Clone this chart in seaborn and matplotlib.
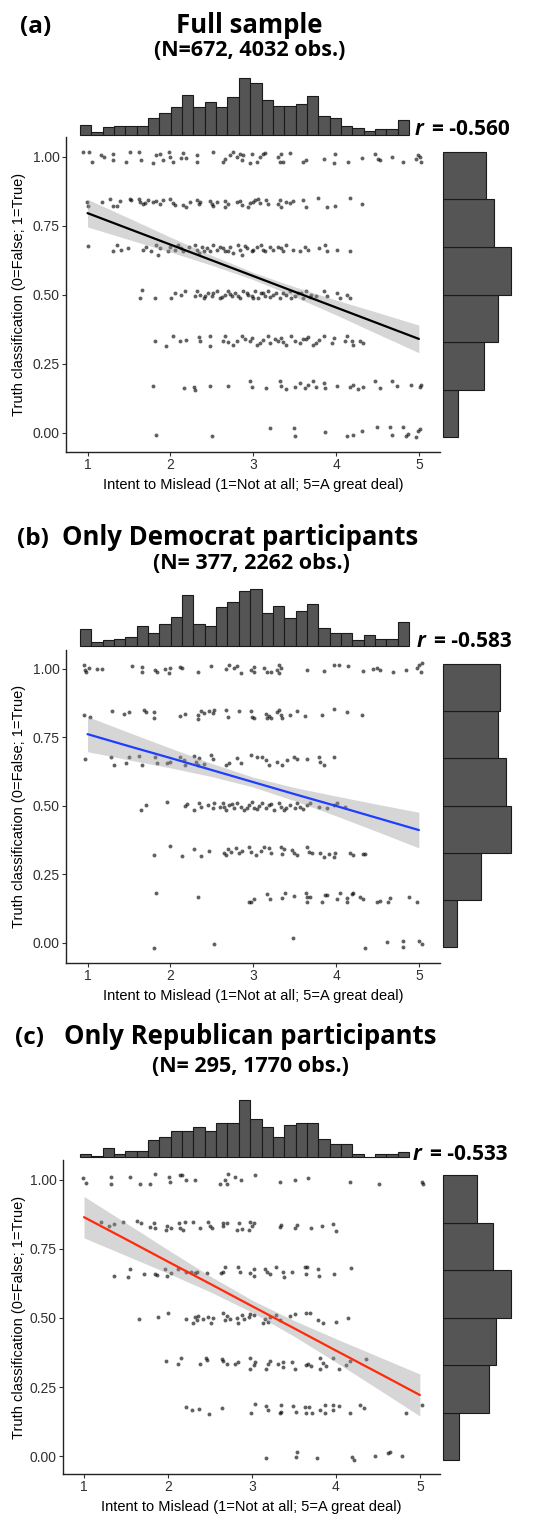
import numpy as np
import pandas as pd
import matplotlib
matplotlib.use("Agg")
import matplotlib.pyplot as plt
import seaborn as sns

# ---------------- data ----------------
tick_x = [1, 2, 3, 4, 5]
tick_y = [0.0, 0.25, 0.50, 0.75, 1.00]
tick_y_labels = ["0.00", "0.25", "0.50", "0.75", "1.00"]
x_label = "Intent to Mislead (1=Not at all; 5=A great deal)"
y_label = "Truth classification (0=False; 1=True)"

tags = ["(a)", "(b)", "(c)"]
titles = ["Full sample", "Only Democrat participants", "Only Republican participants"]
subtitles = ["(N=672, 4032 obs.)", "(N= 377, 2262 obs.)", "(N= 295, 1770 obs.)"]
r_values = ["-0.560", "-0.583", "-0.533"]
line_colors = ["black", "#1f3dff", "#ff2a0a"]

# x-marginal histogram (29 bins), counts per bin
x_bin_lo, x_bin_hi = 0.931, 5.069
a_top = [11, 3, 8, 9, 9, 10, 18, 23, 30, 42, 29, 35, 30, 40, 60, 55, 37, 31, 31, 33, 41, 20, 18, 10, 7, 4, 6, 6, 16]
b_top = [9, 2, 3, 4, 5, 11, 7, 12, 16, 28, 12, 11, 21, 24, 30, 31, 18, 22, 15, 19, 23, 10, 7, 7, 3, 6, 4, 4, 13]
c_top = [3, 1, 10, 3, 7, 7, 18, 22, 28, 28, 33, 28, 37, 37, 62, 41, 33, 22, 35, 37, 37, 20, 14, 14, 3, 0, 3, 3, 5]

# y-marginal histogram (6 bins, bottom to top)
y_bin_lo, y_bin_hi = -0.016, 1.018
a_right = [37, 102, 135, 168, 125, 105]
b_right = [18, 49, 87, 80, 70, 73]
c_right = [18, 51, 59, 75, 55, 37]

# fitted line with 95% band
band_x = [1.0, 1.5, 2.0, 2.5, 3.0, 3.5, 4.0, 4.5, 5.0]
a_fit = [0.796, 0.739, 0.682, 0.625, 0.568, 0.511, 0.454, 0.397, 0.340]
a_lo = [0.746, 0.700, 0.655, 0.607, 0.555, 0.493, 0.427, 0.358, 0.290]
a_hi = [0.846, 0.778, 0.709, 0.643, 0.581, 0.529, 0.481, 0.436, 0.390]
b_fit = [0.762, 0.718, 0.675, 0.631, 0.587, 0.543, 0.500, 0.456, 0.412]
b_lo = [0.698, 0.668, 0.639, 0.607, 0.569, 0.519, 0.464, 0.406, 0.347]
b_hi = [0.826, 0.768, 0.711, 0.655, 0.605, 0.567, 0.536, 0.506, 0.477]
c_fit = [0.865, 0.785, 0.704, 0.624, 0.543, 0.463, 0.382, 0.302, 0.221]
c_lo = [0.790, 0.726, 0.662, 0.595, 0.521, 0.434, 0.340, 0.243, 0.145]
c_hi = [0.940, 0.844, 0.747, 0.652, 0.565, 0.491, 0.425, 0.361, 0.297]

# jittered participant points (intent, truth classification)
a_points = [
    (0.95, 1.016), (1.02, 1.016), (1.05, 0.983), (1.16, 1.005), (1.20, 1.001), (1.31, 1.011), (1.31, 0.987),
    (1.46, 0.981), (1.51, 1.016), (1.62, 1.016), (1.64, 0.987), (1.79, 0.977), (1.83, 1.007), (1.87, 1.011),
    (1.91, 0.989), (1.98, 1.016), (1.99, 1.001), (2.03, 0.983), (2.13, 0.995), (2.15, 1.013), (2.19, 0.995),
    (2.32, 1.007), (2.32, 0.981), (2.52, 1.016), (2.63, 0.983), (2.66, 0.991), (2.72, 1.007), (2.76, 1.016),
    (2.80, 1.001), (2.84, 1.011), (2.86, 0.989), (2.88, 1.007), (2.96, 0.979), (2.98, 1.011), (3.04, 0.983),
    (3.08, 1.001), (3.12, 1.011), (3.14, 1.013), (3.30, 1.001), (3.32, 0.983), (3.34, 1.011), (3.36, 0.983),
    (3.44, 1.013), (3.60, 0.983), (3.64, 0.989), (3.85, 0.991), (3.97, 0.979), (3.99, 1.011), (4.15, 0.981),
    (4.31, 0.995), (4.47, 1.011), (4.51, 0.991), (4.53, 0.987), (4.67, 1.001), (4.81, 0.983), (4.97, 0.991),
    (4.99, 1.007), (5.01, 1.001), (5.03, 0.983),
    (0.99, 0.838), (1.01, 0.822), (1.17, 0.838), (1.27, 0.846), (1.31, 0.822), (1.35, 0.822), (1.39, 0.841),
    (1.51, 0.848), (1.53, 0.844), (1.62, 0.848), (1.63, 0.838), (1.67, 0.829), (1.69, 0.834), (1.73, 0.844),
    (1.79, 0.838), (1.83, 0.841), (1.87, 0.829), (1.91, 0.844), (1.99, 0.848), (2.03, 0.834), (2.05, 0.826),
    (2.15, 0.826), (2.19, 0.820), (2.24, 0.838), (2.32, 0.844), (2.34, 0.829), (2.36, 0.835), (2.48, 0.841),
    (2.50, 0.829), (2.52, 0.822), (2.56, 0.838), (2.66, 0.841), (2.66, 0.820), (2.70, 0.829), (2.80, 0.838),
    (2.84, 0.841), (2.86, 0.826), (2.94, 0.820), (2.96, 0.832), (3.00, 0.838), (3.02, 0.844), (3.06, 0.846),
    (3.08, 0.834), (3.16, 0.844), (3.18, 0.829), (3.30, 0.829), (3.32, 0.844), (3.34, 0.820), (3.40, 0.838),
    (3.44, 0.832), (3.48, 0.841), (3.60, 0.844), (3.64, 0.817), (3.78, 0.850), (3.89, 0.820), (3.99, 0.822),
    (4.17, 0.850), (4.31, 0.829),
    (1.01, 0.678), (1.31, 0.657), (1.35, 0.681), (1.41, 0.663), (1.49, 0.669), (1.67, 0.663), (1.71, 0.675),
    (1.77, 0.657), (1.83, 0.681), (1.85, 0.645), (1.87, 0.669), (1.97, 0.657), (1.99, 0.675), (2.05, 0.663),
    (2.09, 0.681), (2.13, 0.669), (2.15, 0.657), (2.22, 0.675), (2.30, 0.681), (2.32, 0.663), (2.34, 0.651),
    (2.38, 0.675), (2.44, 0.669), (2.48, 0.657), (2.52, 0.681), (2.56, 0.663), (2.64, 0.669), (2.66, 0.657),
    (2.72, 0.675), (2.76, 0.651), (2.82, 0.681), (2.84, 0.663), (2.86, 0.645), (2.92, 0.669), (2.98, 0.657),
    (3.04, 0.675), (3.10, 0.681), (3.12, 0.663), (3.14, 0.657), (3.24, 0.663), (3.30, 0.675), (3.36, 0.657),
    (3.40, 0.681), (3.48, 0.663), (3.56, 0.657), (3.62, 0.675), (3.66, 0.663), (3.80, 0.669), (3.87, 0.681),
    (3.89, 0.657), (4.01, 0.663), (4.17, 0.657), (2.40, 0.660), (2.60, 0.672), (2.70, 0.660), (2.90, 0.678),
    (3.00, 0.664), (3.20, 0.672), (3.34, 0.668),
    (1.63, 0.488), (1.66, 0.516), (1.81, 0.488), (2.01, 0.488), (2.05, 0.506), (2.13, 0.500), (2.18, 0.512),
    (2.30, 0.494), (2.32, 0.512), (2.36, 0.500), (2.40, 0.488), (2.46, 0.506), (2.50, 0.494), (2.56, 0.512),
    (2.60, 0.488), (2.66, 0.500), (2.70, 0.512), (2.74, 0.494), (2.78, 0.506), (2.84, 0.488), (2.88, 0.512),
    (2.94, 0.500), (2.98, 0.494), (3.02, 0.512), (3.06, 0.488), (3.10, 0.506), (3.14, 0.494), (3.18, 0.512),
    (3.24, 0.500), (3.32, 0.488), (3.36, 0.506), (3.44, 0.512), (3.50, 0.494), (3.54, 0.506), (3.60, 0.488),
    (3.64, 0.512), (3.70, 0.500), (3.76, 0.494), (3.85, 0.512), (3.89, 0.494), (4.01, 0.506), (4.05, 0.488),
    (4.13, 0.500), (4.17, 0.488), (2.42, 0.496), (2.52, 0.508), (2.62, 0.492), (2.72, 0.504), (2.82, 0.496),
    (2.92, 0.508), (3.00, 0.490), (3.12, 0.508), (3.20, 0.492), (3.28, 0.508), (3.40, 0.500), (3.46, 0.490),
    (3.58, 0.508), (3.68, 0.492),
    (1.81, 0.331), (1.95, 0.313), (2.03, 0.349), (2.12, 0.334), (2.19, 0.337), (2.34, 0.346), (2.36, 0.331),
    (2.48, 0.351), (2.48, 0.315), (2.64, 0.331), (2.66, 0.349), (2.76, 0.319), (2.80, 0.334), (2.86, 0.349),
    (2.96, 0.331), (2.98, 0.343), (3.04, 0.319), (3.12, 0.337), (3.18, 0.349), (3.20, 0.325), (3.30, 0.331),
    (3.34, 0.343), (3.40, 0.319), (3.46, 0.349), (3.50, 0.331), (3.56, 0.325), (3.64, 0.339), (3.66, 0.346),
    (3.72, 0.319), (3.80, 0.337), (3.85, 0.349), (3.95, 0.325), (3.97, 0.343), (4.11, 0.331), (4.13, 0.349),
    (4.19, 0.334), (4.21, 0.319), (4.29, 0.331), (4.33, 0.325), (2.70, 0.330), (2.90, 0.340), (3.08, 0.325),
    (3.26, 0.340), (3.36, 0.330), (3.60, 0.340), (3.76, 0.325),
    (1.79, 0.168), (2.16, 0.162), (2.28, 0.166), (2.30, 0.154), (2.48, 0.171), (2.70, 0.168), (2.96, 0.186),
    (2.98, 0.166), (3.16, 0.162), (3.32, 0.186), (3.34, 0.171), (3.40, 0.159), (3.50, 0.166), (3.56, 0.180),
    (3.62, 0.162), (3.66, 0.174), (3.72, 0.186), (3.76, 0.166), (3.85, 0.180), (3.87, 0.162), (4.01, 0.171),
    (4.17, 0.166), (4.21, 0.174), (4.27, 0.159), (4.33, 0.166), (4.47, 0.186), (4.53, 0.162), (4.67, 0.186),
    (4.73, 0.168), (4.91, 0.174), (5.03, 0.174), (5.01, 0.166),
    (1.83, -0.010), (2.50, -0.012), (3.20, 0.017), (3.49, 0.017), (3.50, -0.013), (3.87, 0.002), (4.13, -0.012),
    (4.21, -0.007), (4.31, 0.007), (4.49, 0.021), (4.65, 0.019), (4.68, -0.007), (4.81, 0.019), (4.85, -0.013),
    (4.87, -0.005), (4.97, -0.017), (4.99, 0.005), (5.01, 0.014),
]

b_points = [
    (0.96, 1.015), (0.97, 0.996), (0.98, 0.987), (1.02, 1.002), (1.12, 0.999), (1.18, 0.999), (1.54, 1.011),
    (1.66, 1.006), (1.66, 0.990), (1.81, 0.996), (1.84, 0.987), (1.94, 0.999), (1.98, 0.984), (2.00, 1.002),
    (2.12, 1.006), (2.14, 1.002), (2.33, 0.987), (2.49, 1.011), (2.67, 0.999), (2.71, 1.015), (2.77, 1.002),
    (2.81, 1.011), (2.85, 0.984), (2.97, 0.996), (3.01, 1.006), (3.01, 0.990), (3.13, 1.002), (3.17, 0.990),
    (3.21, 0.987), (3.29, 0.996), (3.31, 1.015), (3.33, 1.002), (3.31, 0.984), (3.65, 0.996), (3.85, 0.994),
    (3.97, 1.015), (4.03, 1.015), (4.15, 1.009), (4.33, 0.994), (4.45, 0.999), (4.49, 1.002), (4.53, 0.996),
    (4.69, 0.990), (4.84, 0.996), (4.98, 1.002), (5.00, 1.015), (5.02, 0.990), (5.04, 1.021),
    (0.96, 0.832), (1.03, 0.823), (1.30, 0.848), (1.44, 0.835), (1.50, 0.844), (1.68, 0.850), (1.70, 0.844),
    (1.80, 0.844), (1.80, 0.820), (2.12, 0.828), (2.18, 0.835), (2.33, 0.832), (2.33, 0.816), (2.37, 0.848),
    (2.41, 0.840), (2.47, 0.848), (2.51, 0.840), (2.53, 0.850), (2.67, 0.850), (2.69, 0.823), (2.83, 0.848),
    (2.97, 0.848), (2.99, 0.823), (3.01, 0.820), (3.15, 0.835), (3.17, 0.820), (3.19, 0.828), (3.21, 0.820),
    (3.29, 0.844), (3.31, 0.850), (3.33, 0.832), (3.35, 0.820), (3.45, 0.832), (3.53, 0.848), (3.63, 0.828),
    (3.83, 0.832), (3.97, 0.852), (4.13, 0.844), (4.31, 0.832),
    (0.97, 0.671), (1.28, 0.678), (1.32, 0.650), (1.46, 0.656), (1.50, 0.678), (1.62, 0.683), (1.66, 0.650),
    (1.82, 0.680), (1.84, 0.656), (1.96, 0.658), (2.00, 0.662), (2.12, 0.680), (2.16, 0.666), (2.18, 0.650),
    (2.29, 0.683), (2.31, 0.662), (2.33, 0.650), (2.35, 0.674), (2.41, 0.654), (2.49, 0.686), (2.51, 0.671),
    (2.67, 0.650), (2.71, 0.656), (2.81, 0.674), (2.85, 0.656), (2.97, 0.686), (3.05, 0.680), (3.11, 0.680),
    (3.15, 0.666), (3.19, 0.650), (3.29, 0.662), (3.35, 0.650), (3.41, 0.666), (3.49, 0.678), (3.53, 0.671),
    (3.65, 0.671), (3.79, 0.678), (3.81, 0.662), (3.85, 0.650), (3.97, 0.678),
    (1.64, 0.485), (1.70, 0.504), (1.96, 0.516), (2.18, 0.500), (2.20, 0.507), (2.29, 0.485), (2.35, 0.512),
    (2.37, 0.498), (2.45, 0.504), (2.51, 0.491), (2.53, 0.510), (2.63, 0.512), (2.65, 0.498), (2.67, 0.485),
    (2.71, 0.504), (2.77, 0.491), (2.81, 0.512), (2.85, 0.498), (2.89, 0.485), (2.95, 0.504), (2.99, 0.516),
    (3.01, 0.491), (3.07, 0.500), (3.11, 0.510), (3.15, 0.491), (3.19, 0.504), (3.25, 0.485), (3.31, 0.512),
    (3.33, 0.498), (3.37, 0.485), (3.45, 0.504), (3.51, 0.491), (3.53, 0.510), (3.57, 0.498), (3.65, 0.504),
    (3.69, 0.512), (3.79, 0.498), (3.89, 0.491), (3.97, 0.504), (4.01, 0.510), (4.11, 0.498), (2.60, 0.496),
    (2.75, 0.508), (2.92, 0.494), (3.05, 0.490), (3.22, 0.508), (3.40, 0.494), (3.60, 0.490),
    (1.80, 0.321), (2.00, 0.354), (2.14, 0.318), (2.29, 0.342), (2.37, 0.318), (2.47, 0.335), (2.65, 0.329),
    (2.67, 0.321), (2.69, 0.342), (2.73, 0.333), (2.79, 0.345), (2.83, 0.329), (2.87, 0.337), (2.95, 0.351),
    (2.97, 0.333), (3.03, 0.321), (3.09, 0.337), (3.13, 0.351), (3.19, 0.345), (3.21, 0.327), (3.33, 0.349),
    (3.35, 0.324), (3.37, 0.342), (3.47, 0.339), (3.49, 0.329), (3.53, 0.321), (3.65, 0.349), (3.67, 0.333),
    (3.71, 0.329), (3.81, 0.327), (3.85, 0.315), (3.91, 0.324), (3.97, 0.315), (3.99, 0.327), (4.17, 0.329),
    (4.21, 0.321), (4.33, 0.324), (4.35, 0.324),
    (1.83, 0.184), (2.33, 0.169), (2.95, 0.148), (2.97, 0.151), (3.01, 0.160), (3.17, 0.179), (3.20, 0.160),
    (3.35, 0.163), (3.38, 0.182), (3.49, 0.172), (3.64, 0.184), (3.65, 0.167), (3.65, 0.151), (3.69, 0.167),
    (3.83, 0.148), (3.87, 0.175), (3.89, 0.175), (4.01, 0.160), (4.05, 0.184), (4.13, 0.163), (4.13, 0.148),
    (4.19, 0.179), (4.21, 0.184), (4.29, 0.167), (4.33, 0.160), (4.49, 0.151), (4.53, 0.155), (4.65, 0.163),
    (4.63, 0.148), (4.88, 0.169), (4.98, 0.148),
    (1.80, -0.019), (2.53, -0.005), (3.48, 0.019), (4.35, -0.019), (4.62, 0.002), (4.81, 0.007), (4.81, -0.013),
    (5.00, 0.007), (5.04, -0.004),
]

c_points = [
    (0.99, 1.008), (1.02, 0.988), (1.32, 1.010), (1.32, 0.984), (1.55, 1.012), (1.67, 0.986), (1.79, 0.986),
    (1.85, 1.021), (2.01, 1.010), (2.03, 0.994), (2.14, 1.016), (2.17, 1.018), (2.21, 1.000), (2.32, 0.998),
    (2.62, 0.984), (2.68, 1.000), (2.71, 1.021), (2.70, 0.984), (2.80, 1.010), (2.87, 1.000), (3.04, 1.017),
    (3.33, 0.994), (3.51, 1.000), (3.67, 1.006), (4.17, 0.994), (4.51, 0.986), (5.03, 0.992), (5.04, 0.984),
    (1.20, 0.849), (1.30, 0.833), (1.36, 0.839), (1.47, 0.846), (1.63, 0.852), (1.68, 0.843), (1.79, 0.831),
    (1.83, 0.843), (1.85, 0.825), (1.98, 0.819), (1.99, 0.833), (2.04, 0.825), (2.13, 0.843), (2.14, 0.825),
    (2.18, 0.819), (2.20, 0.849), (2.30, 0.849), (2.38, 0.825), (2.48, 0.849), (2.50, 0.833), (2.53, 0.825),
    (2.66, 0.845), (2.66, 0.833), (2.70, 0.845), (2.82, 0.819), (2.85, 0.845), (2.88, 0.821), (2.97, 0.819),
    (2.98, 0.849), (3.00, 0.833), (3.02, 0.845), (3.33, 0.831), (3.35, 0.837), (3.51, 0.825), (3.54, 0.837),
    (3.70, 0.825), (3.83, 0.833), (3.97, 0.840), (4.00, 0.816),
    (1.36, 0.652), (1.53, 0.650), (1.55, 0.677), (1.71, 0.659), (1.85, 0.660), (1.87, 0.656), (1.96, 0.677),
    (1.99, 0.652), (2.04, 0.662), (2.12, 0.677), (2.22, 0.668), (2.28, 0.668), (2.32, 0.662), (2.34, 0.668),
    (2.46, 0.662), (2.63, 0.662), (2.66, 0.668), (2.68, 0.684), (2.84, 0.684), (2.86, 0.665), (2.98, 0.662),
    (3.02, 0.677), (3.03, 0.652), (3.15, 0.677), (3.18, 0.668), (3.21, 0.659), (3.29, 0.684), (3.37, 0.668),
    (3.38, 0.650), (3.48, 0.665), (3.63, 0.686), (3.65, 0.659), (3.66, 0.686), (3.79, 0.677), (3.80, 0.652),
    (3.98, 0.659), (4.18, 0.680),
    (1.65, 0.495), (1.88, 0.505), (2.00, 0.519), (2.21, 0.498), (2.30, 0.483), (2.32, 0.502), (2.34, 0.493),
    (2.36, 0.507), (2.42, 0.495), (2.48, 0.502), (2.51, 0.483), (2.54, 0.499), (2.66, 0.519), (2.68, 0.493),
    (2.70, 0.507), (2.74, 0.495), (2.82, 0.499), (2.84, 0.483), (2.88, 0.511), (2.90, 0.495), (2.96, 0.502),
    (2.98, 0.514), (3.02, 0.511), (3.13, 0.483), (3.15, 0.495), (3.19, 0.487), (3.21, 0.502), (3.29, 0.511),
    (3.33, 0.493), (3.45, 0.507), (3.51, 0.514), (3.65, 0.517), (3.69, 0.519), (3.79, 0.493), (3.85, 0.483),
    (4.00, 0.487), (4.15, 0.499),
    (1.98, 0.345), (2.12, 0.332), (2.16, 0.354), (2.38, 0.335), (2.45, 0.354), (2.47, 0.348), (2.64, 0.350),
    (2.66, 0.345), (2.70, 0.335), (2.80, 0.335), (2.84, 0.339), (2.98, 0.354), (2.98, 0.317), (3.02, 0.329),
    (3.04, 0.341), (3.17, 0.317), (3.19, 0.332), (3.21, 0.345), (3.31, 0.332), (3.37, 0.341), (3.37, 0.323),
    (3.48, 0.339), (3.51, 0.315), (3.65, 0.329), (3.67, 0.332), (3.70, 0.326), (3.81, 0.354), (3.81, 0.315),
    (3.85, 0.338), (3.88, 0.326), (3.97, 0.354), (4.04, 0.315), (4.12, 0.329), (4.17, 0.345), (4.36, 0.350),
    (2.21, 0.179), (2.29, 0.167), (2.37, 0.169), (2.49, 0.151), (2.64, 0.173), (2.99, 0.157), (3.04, 0.189),
    (3.17, 0.181), (3.19, 0.167), (3.33, 0.155), (3.35, 0.185), (3.35, 0.161), (3.49, 0.181), (3.52, 0.161),
    (3.63, 0.177), (3.64, 0.155), (3.68, 0.177), (3.71, 0.157), (3.81, 0.167), (3.87, 0.185), (3.87, 0.157),
    (3.96, 0.167), (3.97, 0.185), (4.04, 0.181), (4.17, 0.157), (4.29, 0.185), (4.33, 0.173), (4.84, 0.157),
    (5.02, 0.185),
    (3.17, -0.008), (3.52, -0.005), (3.54, 0.013), (3.78, -0.008), (4.19, -0.005), (4.21, -0.014), (4.46, 0.000),
    (4.62, 0.010), (4.64, 0.016), (4.79, 0.001),
]

# ---------------- style / layout ----------------
sns.set_theme(style="ticks")
plt.rcParams["font.family"] = ["Liberation Sans", "DejaVu Sans"]
TITLE_FONT = ["Open Sans", "Lato", "DejaVu Sans"]
HIST_FILL = "#555555"
HIST_EDGE = "#1a1a1a"
AX_TXT = "#303030"

W, H = 540, 1515
fig = plt.figure(figsize=(W / 100, H / 100), dpi=100)


def rect(x0, y0, x1, y1):
    return [x0 / W, 1 - y1 / H, (x1 - x0) / W, (y1 - y0) / H]


layout = [
    dict(main=(66, 137, 440, 452), xlim=(0.74, 5.255), ylim=(-0.070, 1.072),
         top=(80, 78, 409, 135), rightx=(443, 511),
         tag=(20, 33), title=(249, 33), sub=(250, 56), r=(415, 135)),
    dict(main=(66, 650, 440, 963), xlim=(0.74, 5.255), ylim=(-0.073, 1.069),
         top=(80, 589, 409, 646), rightx=(443, 511),
         tag=(17, 545), title=(240, 545), sub=(251, 569), r=(417, 647)),
    dict(main=(63, 1160, 440, 1474), xlim=(0.75, 5.24), ylim=(-0.065, 1.072),
         top=(80, 1100, 409, 1157), rightx=(443, 511),
         tag=(15, 1044), title=(250, 1044), sub=(250, 1072), r=(413, 1160)),
]

points = [a_points, b_points, c_points]
tops = [a_top, b_top, c_top]
rights = [a_right, b_right, c_right]
fits = [a_fit, b_fit, c_fit]
los = [a_lo, b_lo, c_lo]
his = [a_hi, b_hi, c_hi]

n_xbins = len(a_top)
n_ybins = len(a_right)
xw = (x_bin_hi - x_bin_lo) / n_xbins
yw = (y_bin_hi - y_bin_lo) / n_ybins
x_centers = [x_bin_lo + (k + 0.5) * xw for k in range(n_xbins)]
y_centers = [y_bin_lo + (k + 0.5) * yw for k in range(n_ybins)]

for i, L in enumerate(layout):
    df = pd.DataFrame(points[i], columns=["intent", "truth"])
    x0, y0, x1, y1 = L["main"]
    ax = fig.add_axes(rect(*L["main"]))
    sns.scatterplot(data=df, x="intent", y="truth", ax=ax, color="black", alpha=0.62,
                    s=8, linewidth=0, legend=False, zorder=2)
    ax.fill_between(band_x, los[i], his[i], color="#999999", alpha=0.4, linewidth=0, zorder=3)
    sns.lineplot(x=band_x, y=fits[i], ax=ax, color=line_colors[i], linewidth=1.6, zorder=4)
    ax.set_xlim(*L["xlim"])
    ax.set_ylim(*L["ylim"])
    ax.set_xticks(tick_x)
    ax.set_xticklabels([str(t) for t in tick_x])
    ax.set_yticks(tick_y)
    ax.set_yticklabels(tick_y_labels)
    for s in ["top", "right"]:
        ax.spines[s].set_visible(False)
    for s in ["left", "bottom"]:
        ax.spines[s].set_linewidth(1.0)
        ax.spines[s].set_color("#222222")
    ax.tick_params(axis="both", length=3, width=0.8, color="#333333", pad=1.5,
                   labelsize=10, labelcolor=AX_TXT)
    ax.set_xlabel(x_label, fontsize=10.5, color="black")
    ax.set_ylabel(y_label, fontsize=10.5, color="black")
    ax.xaxis.set_label_coords(0.5, -26 / (y1 - y0))
    ax.yaxis.set_label_coords((26 - x0) / (x1 - x0), 0.5)

    # top marginal histogram
    dtop = pd.DataFrame({"intent": x_centers, "count": tops[i]})
    axt = fig.add_axes(rect(*L["top"]))
    sns.histplot(data=dtop, x="intent", weights="count", bins=n_xbins,
                 binrange=(x_bin_lo, x_bin_hi), ax=axt, color=HIST_FILL,
                 edgecolor=HIST_EDGE, linewidth=0.8, alpha=1)
    axt.set_xlim(x_bin_lo, x_bin_hi)
    axt.set_ylim(0, max(tops[i]))
    axt.axis("off")
    for p in axt.patches:
        p.set_clip_on(False)

    # right marginal histogram
    dright = pd.DataFrame({"truth": y_centers, "count": rights[i]})
    rx0, rx1 = L["rightx"]
    axr = fig.add_axes(rect(rx0, y0, rx1, y1))
    sns.histplot(data=dright, y="truth", weights="count", bins=n_ybins,
                 binrange=(y_bin_lo, y_bin_hi), ax=axr, color=HIST_FILL,
                 edgecolor=HIST_EDGE, linewidth=0.8, alpha=1)
    axr.set_ylim(*L["ylim"])
    axr.set_xlim(0, max(rights[i]))
    axr.axis("off")
    for p in axr.patches:
        p.set_clip_on(False)

    # titles
    tx, ty = L["tag"]
    fig.text(tx / W, 1 - ty / H, tags[i], family=TITLE_FONT, weight="bold", fontsize=17.5,
             ha="left", va="baseline", color="black")
    tx, ty = L["title"]
    fig.text(tx / W, 1 - ty / H, titles[i], family=TITLE_FONT, weight="bold", fontsize=18.5,
             ha="center", va="baseline", color="black")
    tx, ty = L["sub"]
    fig.text(tx / W, 1 - ty / H, subtitles[i], family=TITLE_FONT, weight="bold", fontsize=15.5,
             ha="center", va="baseline", color="black")
    tx, ty = L["r"]
    fig.text(tx / W, 1 - ty / H, "r", family=TITLE_FONT, weight="bold", style="italic",
             fontsize=15, ha="left", va="baseline", color="black")
    fig.text((tx + 17) / W, 1 - ty / H, "= " + r_values[i], family=TITLE_FONT, weight="bold",
             fontsize=15, ha="left", va="baseline", color="black")

fig.savefig("out.png", dpi=100, facecolor="white")
